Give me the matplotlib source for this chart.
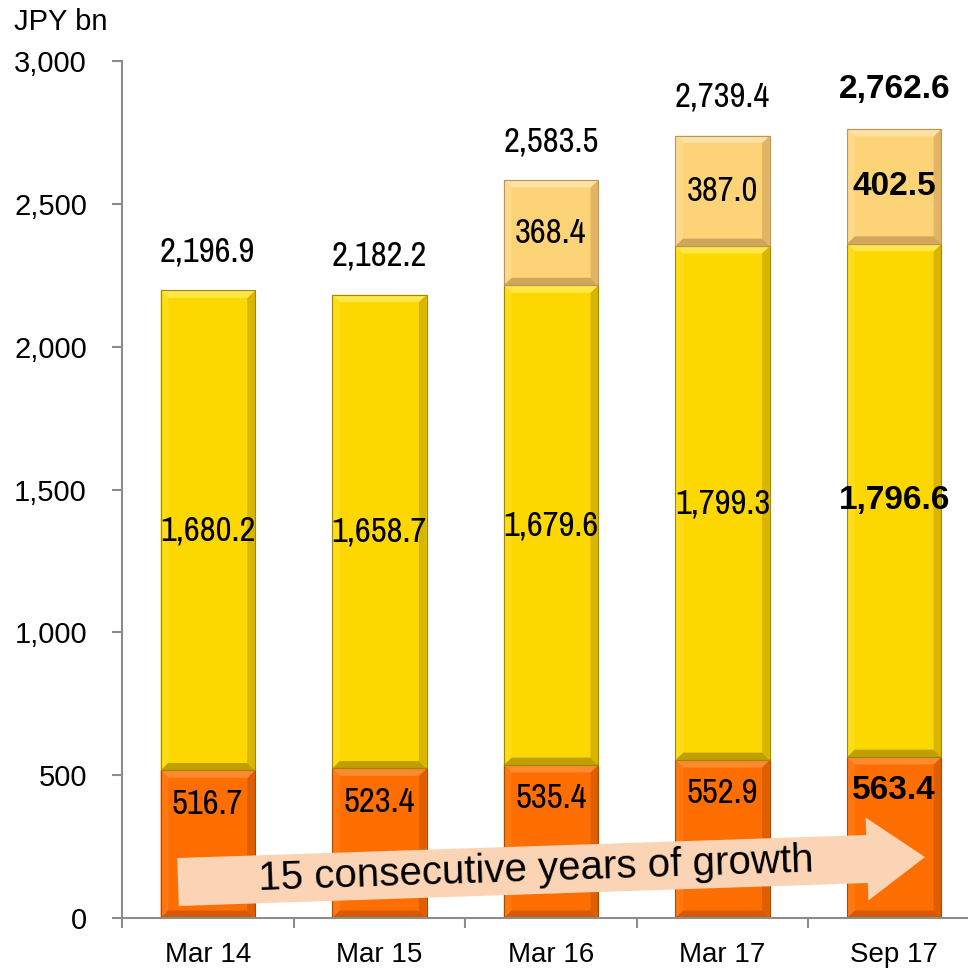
"""Stacked bar chart of balances in JPY bn, Mar 14 to Sep 17."""

import matplotlib
matplotlib.use('Agg')
import matplotlib.pyplot as plt
import matplotlib.font_manager as fm
from matplotlib.patches import Polygon
from matplotlib.ticker import FixedLocator, FuncFormatter
import numpy as np

plt.rcParams['font.family'] = ['Liberation Sans', 'DejaVu Sans']

# narrow face for the value labels, if one is installed
NARROW = dict(family=['Liberation Sans', 'DejaVu Sans'])
narrow_size = 21
for f in fm.fontManager.ttflist:
    if 'Narrow' in f.name:
        NARROW = dict(family=[f.name, 'Liberation Sans'])
        narrow_size = 25
        break

periods = ['Mar 14', 'Mar 15', 'Mar 16', 'Mar 17', 'Sep 17']
base_vals = [516.7, 523.4, 535.4, 552.9, 563.4]
mid_vals = [1680.2, 1658.7, 1679.6, 1799.3, 1796.6]
top_vals = [0.0, 0.0, 368.4, 387.0, 402.5]
totals = [2196.9, 2182.2, 2583.5, 2739.4, 2762.6]
y_ticks = [0, 500, 1000, 1500, 2000, 2500, 3000]
arrow_text = '15 consecutive years of growth'

# body, top band, left band, right band, bottom band, edge
ORANGE = ['#FF6E00', '#FF8A30', '#FF7810', '#DE5E00', '#D45900', '#A94A00']
YELLOW = ['#FDD800', '#FFE74A', '#FEDD18', '#D9B500', '#BFA000', '#A08800']
LIGHT = ['#FCD477', '#FEE2A4', '#FDD988', '#E1B563', '#D0A75A', '#B8955A']

W, H = 968, 972
fig = plt.figure(figsize=(W / 100, H / 100), dpi=100, facecolor='white')
ax = fig.add_axes([122 / W, 1 - 918 / H, 858 / W, 857 / H])

x = np.arange(len(periods))
bar_w = 0.55
base = np.array(base_vals)
mid = np.array(mid_vals)
top = np.array(top_vals)

layers = [
    (base, np.zeros_like(base), ORANGE),
    (mid, base, YELLOW),
    (top, base + mid, LIGHT),
]


def bevel(patch, pal, dx=0.045, dy=26):
    x0, y0 = patch.get_x(), patch.get_y()
    x1, y1 = x0 + patch.get_width(), y0 + patch.get_height()
    if y1 - y0 <= 0:
        return
    quads = [
        ([(x0, y0), (x0, y1), (x0 + dx, y1 - dy), (x0 + dx, y0 + dy)], pal[2]),
        ([(x1, y0), (x1, y1), (x1 - dx, y1 - dy), (x1 - dx, y0 + dy)], pal[3]),
        ([(x0, y0), (x1, y0), (x1 - dx, y0 + dy), (x0 + dx, y0 + dy)], pal[4]),
        ([(x0, y1), (x1, y1), (x1 - dx, y1 - dy), (x0 + dx, y1 - dy)], pal[1]),
    ]
    for pts, c in quads:
        ax.add_patch(Polygon(pts, closed=True, facecolor=c, edgecolor='none',
                             zorder=2.1))
    ax.add_patch(plt.Rectangle((x0, y0), x1 - x0, y1 - y0, facecolor='none',
                               edgecolor=pal[5], linewidth=0.8, zorder=2.2))


for vals, bottoms, pal in layers:
    bars = ax.bar(x, vals, width=bar_w, bottom=bottoms, color=pal[0],
                  edgecolor='none', zorder=2)
    for p in bars:
        bevel(p, pal)

# segment and total labels; the latest period is set in bold
for i in range(len(periods)):
    if i == len(periods) - 1:
        kw = dict(fontsize=24, fontweight='bold',
                  family=['Liberation Sans', 'DejaVu Sans'])
    else:
        kw = dict(fontsize=narrow_size, **NARROW)
    kw.update(ha='center', va='center', color='black', zorder=5)
    ax.annotate(f'{base_vals[i]:,.1f}', (x[i], base_vals[i]),
                xytext=(0, -24), textcoords='offset points', **kw)
    ax.text(x[i], base_vals[i] + mid_vals[i] / 2, f'{mid_vals[i]:,.1f}', **kw)
    if top_vals[i] > 0:
        ax.text(x[i], base_vals[i] + mid_vals[i] + top_vals[i] / 2,
                f'{top_vals[i]:,.1f}', **kw)
    ax.annotate(f'{totals[i]:,.1f}', (x[i], base_vals[i] + mid_vals[i] + top_vals[i]),
                xytext=(0, 28), textcoords='offset points', **kw)

ax.set_xlim(-0.5, len(periods) - 0.5)
ax.set_ylim(0, 3000)
ax.set_yticks(y_ticks)
ax.yaxis.set_major_formatter(FuncFormatter(lambda v, _: f'{v:,.0f}'))
ax.set_xticks(x)
ax.set_xticklabels(periods)
ax.xaxis.set_minor_locator(FixedLocator(np.arange(-0.5, len(periods), 1.0)))

for side in ('top', 'right'):
    ax.spines[side].set_visible(False)
for side in ('left', 'bottom'):
    ax.spines[side].set_color('#8C8C8C')
    ax.spines[side].set_linewidth(1.5)

ax.tick_params(axis='y', direction='out', length=7.2, width=1.5,
               color='#8C8C8C', pad=18, labelsize=21)
ax.tick_params(axis='x', which='major', length=0, pad=17, labelsize=20)
ax.tick_params(axis='x', which='minor', direction='out', length=7.2,
               width=1.5, color='#8C8C8C')

fig.text(14 / W, 1 - 22 / H, 'JPY bn', fontsize=21, va='center', ha='left')

# growth arrow across the bottom of the bars
ang = np.deg2rad(1.91)
ux, uy = np.cos(ang), -np.sin(ang)          # along arrow (pixel coords, y down)
nx, ny = np.sin(ang), np.cos(ang)           # perpendicular, pointing down
sx, sy = 178, 882
body_len, head_len, half_b, half_h = 689.4, 58, 24, 41.5
local = [(0, -half_b), (body_len, -half_b), (body_len, -half_h),
         (body_len + head_len, 0), (body_len, half_h), (body_len, half_b),
         (0, half_b)]
pts = [((sx + a * ux + b * nx) / W, 1 - (sy + a * uy + b * ny) / H)
       for a, b in local]
fig.patches.append(Polygon(pts, closed=True, facecolor='#FAD4B5',
                           edgecolor='none', transform=fig.transFigure,
                           zorder=4))
tx, ty = 536, 882 - (536 - 178) * np.tan(ang)
fig.text(tx / W, 1 - ty / H, arrow_text, fontsize=29, ha='center',
         va='center', rotation=1.91, rotation_mode='anchor', zorder=6)

fig.savefig('out.png', dpi=100, facecolor='white')
